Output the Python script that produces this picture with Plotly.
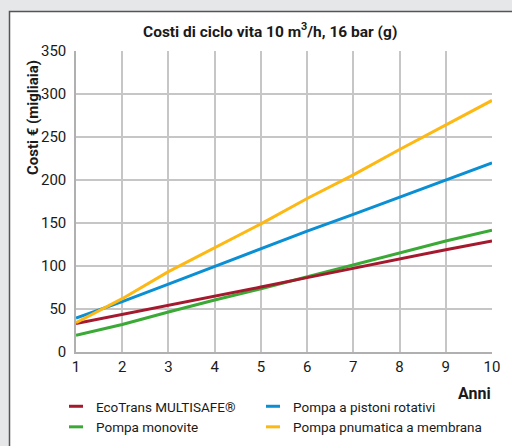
import plotly.graph_objects as go

years = [1, 2, 3, 4, 5, 6, 7, 8, 9, 10]
ecotrans = [33, 43.5, 54, 65, 75.5, 86.5, 97.5, 108, 119, 129]
monovite = [19.5, 32, 46.5, 60.5, 73.5, 87.5, 101, 115, 129, 141.5]
pistoni = [39.5, 58.5, 79, 99.5, 119.5, 140.5, 160, 180, 200, 220]
membrana = [34, 62, 93.5, 121, 149, 178.5, 206, 235.5, 264, 292.5]

series_names = ["EcoTrans MULTISAFE®", "Pompa a pistoni rotativi",
                "Pompa monovite", "Pompa pnumatica a membrana"]
series_values = [ecotrans, pistoni, monovite, membrana]
series_colors = ["#a5192e", "#0a8fd4", "#3aa935", "#fdb813"]
legend_ids = ["legend", "legend2", "legend", "legend2"]

y_ticks = [0, 50, 100, 150, 200, 250, 300, 350]

FONT = "Roboto, Liberation Sans, sans-serif"
TXT = "#1a1a1a"

W, H = 512, 446
L, R, T, B = 76, 20, 51, 94
PW, PH = W - L - R, H - T - B


def px(x):
    return (x - L) / PW


def py(y):
    return (H - B - y) / PH


fig = go.Figure()

# panel background
fig.add_shape(type="rect", xref="paper", yref="paper",
              x0=px(9.5), x1=px(530), y0=py(11.5), y1=py(470),
              fillcolor="white", line=dict(color="#555555", width=1.5),
              layer="below")

draw_order = [2, 0, 1, 3]
for i in draw_order:
    fig.add_trace(go.Scatter(x=years, y=series_values[i], mode="lines",
                             line=dict(color=series_colors[i], width=3),
                             showlegend=False, hoverinfo="skip"))

# legend entries with short dash symbols
for name, col, lg in zip(series_names, series_colors, legend_ids):
    fig.add_trace(go.Scatter(x=[None], y=[None], mode="markers", name=name,
                             legend=lg,
                             marker=dict(symbol="line-ew-open", size=10,
                                         color=col,
                                         line=dict(color=col, width=3))))

leg_common = dict(orientation="v", xanchor="left", yanchor="top",
                  itemwidth=30, font=dict(family=FONT, size=13.5, color=TXT),
                  bgcolor="rgba(0,0,0,0)", tracegroupgap=0,
                  traceorder="normal")

fig.update_layout(
    width=W, height=H,
    margin=dict(l=L, r=R, t=T, b=B, autoexpand=False),
    paper_bgcolor="#e6e7e8",
    plot_bgcolor="white",
    font=dict(family=FONT, size=15, color=TXT),
    showlegend=True,
    legend=dict(x=px(56), y=py(391), **leg_common),
    legend2=dict(x=px(253), y=py(391), **leg_common),
    xaxis=dict(range=[1, 10], tickmode="array", tickvals=years,
               showgrid=True, gridcolor="#c6c6c6", gridwidth=1.5,
               showline=True, linecolor="#b0b0b0", linewidth=1.5,
               zeroline=False, ticks="", tickfont=dict(size=15, color=TXT)),
    yaxis=dict(range=[0, 350], tickmode="array", tickvals=y_ticks,
               showgrid=True, gridcolor="#c6c6c6", gridwidth=1.5,
               showline=True, linecolor="#b0b0b0", linewidth=1.5,
               zeroline=False, ticks="", ticklabelstandoff=5,
               tickfont=dict(size=15, color=TXT)),
    annotations=[
        dict(text="<b>Costi di ciclo vita 10 m<sup>3</sup>/h, 16 bar (g)</b>",
             xref="paper", yref="paper", x=px(270), y=py(30),
             xanchor="center", yanchor="middle", showarrow=False,
             font=dict(family=FONT, size=15.5, color=TXT)),
        dict(text="<b>Costi € (migliaia)</b>", textangle=-90,
             xref="paper", yref="paper", x=px(33), y=py(118),
             xanchor="center", yanchor="middle", showarrow=False,
             font=dict(family=FONT, size=15, color=TXT)),
        dict(text="<b>Anni</b>",
             xref="paper", yref="paper", x=px(493), y=py(393),
             xanchor="right", yanchor="middle", showarrow=False,
             font=dict(family=FONT, size=16, color=TXT)),
    ],
)

fig.write_html("out.html", config={"displayModeBar": False},
               post_script="document.body.style.margin='0px';")
